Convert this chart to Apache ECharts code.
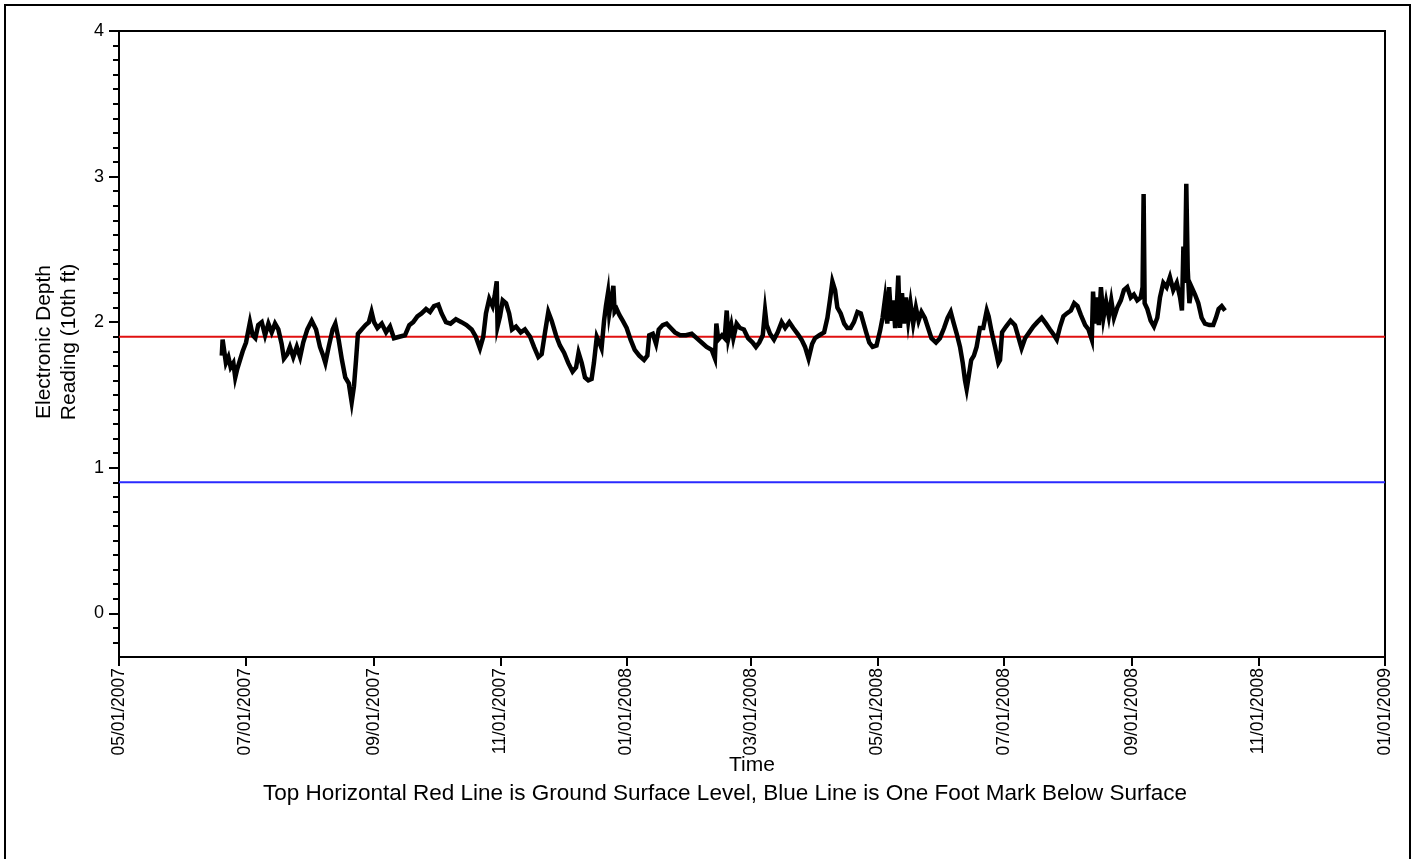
<!DOCTYPE html>
<html><head><meta charset="utf-8">
<script src="https://cdn.jsdelivr.net/npm/echarts@6/dist/echarts.min.js"></script>
<style>html,body{margin:0;padding:0;background:#fff}#c{width:1414px;height:859px}</style>
</head><body><div id="c"></div>
<script>
// ---- data ----
const axisStart = '2007-05-01';
const axisEnd = '2009-01-01';
const tickDates = ['2007-05-01','2007-07-01','2007-09-01','2007-11-01','2008-01-01','2008-03-01',
  '2008-05-01','2008-07-01','2008-09-01','2008-11-01','2009-01-01'];
const yTickValues = [0, 1, 2, 3, 4];
const yMinorTickValues = [-0.2,-0.1,0.1,0.2,0.3,0.4,0.5,0.6,0.7,0.8,0.9,1.1,1.2,1.3,1.4,1.5,1.6,1.7,1.8,1.9,
  2.1,2.2,2.3,2.4,2.5,2.6,2.7,2.8,2.9,3.1,3.2,3.3,3.4,3.5,3.6,3.7,3.8,3.9];
const groundSurfaceLevel = 1.9;
const oneFootBelowSurface = 0.9;
// days after 05/01/2007
const daysSinceStart = [
49.6,50.0,50.7,51.6,52.8,53.9,55.2,56.1,57.1,58.4,59.7,61.3,63.2,64.5,65.8,67.2,68.9,70.5,72.1,73.7,
75.3,76.9,78.5,79.6,81.2,82.5,84.1,85.8,87.4,88.9,90.9,93.0,95.1,97.0,98.3,99.6,101.2,103.1,104.4,106.0,
107.6,109.2,110.9,112.3,113.4,114.4,115.3,117.1,119.0,120.6,121.9,123.1,124.7,126.8,128.9,130.8,132.7,135.3,138.0,140.1,
142.0,144.0,146.0,148.2,150.1,152.0,154.1,155.7,157.8,160.0,162.6,165.3,167.7,170.2,172.2,174.2,175.8,177.1,178.7,180.3,
181.3,182.3,182.7,183.9,185.2,186.8,188.3,189.7,191.6,193.9,195.9,198.4,200.3,202.4,204.0,205.6,207.2,208.8,210.9,212.8,
214.8,216.8,218.9,220.6,221.8,223.3,224.9,226.5,228.1,229.2,230.6,232.1,232.9,234.1,235.0,236.0,236.6,237.6,238.6,239.2,
240.2,241.5,243.1,245.0,246.9,248.9,251.1,253.4,255.0,255.9,257.6,259.2,260.5,262.4,264.3,266.3,268.3,270.8,273.6,276.4,
278.8,281.2,283.6,286.0,287.6,288.3,289.2,291.0,292.3,293.3,294.1,295.5,296.5,298.1,299.7,301.6,303.6,305.8,307.4,309.0,
310.7,311.8,312.6,314.2,316.1,317.9,319.8,321.5,323.5,325.4,327.5,329.4,331.1,332.8,334.5,335.9,338.0,340.3,341.9,343.1,
344.3,345.6,346.7,348.3,350.0,351.5,353.1,354.7,356.4,358.0,359.2,360.6,362.1,363.7,365.6,367.3,368.5,369.7,370.8,371.7,
372.7,373.7,374.6,375.6,376.1,376.9,377.9,378.8,379.8,380.9,382.0,383.3,384.6,385.9,387.3,388.9,390.5,392.1,394.3,396.2,
398.2,399.9,401.4,402.7,404.3,405.9,407.2,408.3,409.1,410.1,411.3,412.6,413.9,415.5,417.1,418.8,419.7,421.2,422.8,424.4,
425.2,426.2,428.1,430.3,432.4,434.0,435.6,437.3,439.3,441.3,443.2,445.3,447.4,449.3,451.3,452.6,454.2,455.8,457.4,459.4,
461.0,462.6,464.2,466.3,467.9,469.5,470.1,471.0,471.9,472.9,473.9,475.1,476.4,477.7,478.9,480.2,481.8,483.5,485.0,486.6,
488.3,489.8,491.4,493.1,494.0,494.5,495.0,496.3,497.9,499.5,501.1,502.4,504.0,505.6,507.2,508.8,510.5,512.1,513.0,513.7,
514.4,515.1,515.8,516.6,517.7,519.3,520.9,522.5,524.1,526.2,528.1,529.4,530.7,532.2,533.8
];
const depthReading = [
1.77,1.88,1.89,1.72,1.76,1.69,1.72,1.62,1.68,1.74,1.80,1.86,2.00,1.91,1.89,1.98,2.00,1.91,1.99,1.93,
1.99,1.95,1.85,1.75,1.78,1.83,1.76,1.83,1.76,1.86,1.95,2.01,1.95,1.83,1.78,1.72,1.83,1.95,1.99,1.88,
1.74,1.62,1.58,1.45,1.56,1.74,1.92,1.95,1.98,2.00,2.07,2.00,1.96,1.99,1.93,1.97,1.89,1.90,1.91,1.98,
2.00,2.04,2.06,2.09,2.07,2.11,2.12,2.06,2.00,1.99,2.02,2.00,1.98,1.95,1.90,1.82,1.90,2.06,2.16,2.11,
2.18,2.28,1.97,2.04,2.15,2.13,2.06,1.95,1.97,1.93,1.95,1.90,1.83,1.76,1.78,1.93,2.07,2.01,1.91,1.84,
1.79,1.72,1.66,1.69,1.79,1.72,1.62,1.60,1.61,1.72,1.90,1.85,1.82,2.01,2.11,2.20,2.06,2.15,2.25,2.07,
2.09,2.05,2.01,1.96,1.88,1.81,1.77,1.74,1.77,1.91,1.92,1.85,1.95,1.98,1.99,1.96,1.93,1.91,1.91,1.92,
1.89,1.86,1.83,1.81,1.75,1.99,1.88,1.91,1.89,2.08,1.89,1.98,1.89,1.99,1.96,1.95,1.89,1.86,1.83,1.86,
1.91,2.08,1.98,1.92,1.88,1.93,2.00,1.96,2.00,1.96,1.92,1.88,1.83,1.75,1.85,1.89,1.91,1.93,2.03,2.15,
2.28,2.22,2.10,2.06,1.99,1.96,1.96,2.00,2.07,2.06,2.00,1.93,1.86,1.83,1.84,1.94,2.03,2.16,1.99,2.24,
2.01,2.15,1.96,2.17,2.32,1.96,2.20,1.99,2.17,2.01,2.13,1.99,2.10,2.01,2.07,2.03,1.96,1.89,1.86,1.89,
1.96,2.03,2.07,2.00,1.92,1.83,1.72,1.60,1.54,1.63,1.74,1.77,1.83,1.96,1.96,2.08,2.04,1.93,1.83,1.72,
1.74,1.93,1.97,2.01,1.98,1.90,1.82,1.89,1.93,1.97,2.00,2.03,1.99,1.95,1.91,1.88,1.97,2.04,2.06,2.08,
2.13,2.11,2.05,1.98,1.95,1.88,2.21,1.99,2.17,1.98,2.24,2.03,2.14,2.04,2.15,2.03,2.10,2.15,2.22,2.24,
2.17,2.19,2.15,2.17,2.24,2.88,2.13,2.09,2.01,1.97,2.03,2.17,2.27,2.24,2.31,2.22,2.27,2.17,2.08,2.52,
2.27,2.95,2.36,2.13,2.24,2.19,2.13,2.03,1.99,1.98,1.98,2.03,2.09,2.11,2.08
];
const axisTitleX = 'Time';
const axisTitleY = 'Electronic Depth\nReading (10th ft)';
const noteText = 'Top Horizontal Red Line is Ground Surface Level, Blue Line is One Foot Mark Below Surface';

// ---- build ----
const DAY = 86400000;
const toTs = s => Date.UTC(+s.slice(0,4), +s.slice(5,7)-1, +s.slice(8,10));
const xMin = toTs(axisStart), xMax = toTs(axisEnd);
const tickTs = tickDates.map(toTs);
const pad = n => (n < 10 ? '0' : '') + n;
const fmt = v => { const d = new Date(v); return pad(d.getUTCMonth()+1) + '/' + pad(d.getUTCDate()) + '/' + d.getUTCFullYear(); };
const seriesData = daysSinceStart.map((d, i) => [xMin + d * DAY, depthReading[i]]);
const FONT = '"Liberation Sans", Arial, sans-serif';

const chart = echarts.init(document.getElementById('c'), null, {renderer: 'canvas'});
chart.setOption({
  animation: false,
  backgroundColor: '#fff',
  grid: {left: 119, right: 29, top: 31, bottom: 202, show: true, borderColor: '#000', borderWidth: 2, containLabel: false},
  xAxis: {
    type: 'value', min: xMin, max: xMax,
    axisLine: {onZero: false, lineStyle: {color: '#000', width: 2}},
    axisTick: {customValues: tickTs, length: 9, lineStyle: {color: '#000', width: 2}},
    axisLabel: {customValues: tickTs, formatter: fmt, rotate: 90, color: '#000', fontSize: 17.5, fontFamily: FONT, margin: 11},
    splitLine: {show: false},
    name: axisTitleX, nameLocation: 'middle', nameGap: 98, nameMoveOverlap: false,
    nameTextStyle: {color: '#000', fontSize: 21, fontFamily: FONT}
  },
  yAxis: [{
    type: 'value', min: -0.3, max: 4,
    axisLine: {show: true, onZero: false, lineStyle: {color: '#000', width: 2}},
    axisTick: {customValues: yTickValues, length: 10, lineStyle: {color: '#000', width: 2}},
    axisLabel: {customValues: yTickValues, color: '#000', fontSize: 18, fontFamily: FONT, margin: 15},
    splitLine: {show: false}
  }, {
    type: 'value', min: -0.3, max: 4, position: 'left',
    axisLine: {show: false, onZero: false},
    axisTick: {customValues: yMinorTickValues, length: 6, lineStyle: {color: '#000', width: 2}},
    axisLabel: {show: false},
    splitLine: {show: false}
  }],
  graphic: [
    {type: 'rect', shape: {x: 5, y: 5, width: 1405, height: 900}, style: {fill: 'none', stroke: '#000', lineWidth: 2}, silent: true},
    {type: 'text', x: 57, y: 342, rotation: Math.PI / 2,
      style: {text: axisTitleY, fill: '#000', font: '21px ' + FONT, textAlign: 'center', textVerticalAlign: 'middle', lineHeight: 25}},
    {type: 'text', x: 725, y: 794,
      style: {text: noteText, fill: '#000', font: '22.5px ' + FONT, textAlign: 'center', textVerticalAlign: 'middle'}}
  ],
  series: [
    {type: 'line', yAxisIndex: 0, data: [[xMin, groundSurfaceLevel], [xMax, groundSurfaceLevel]], symbol: 'none', silent: true,
      lineStyle: {color: '#e01010', width: 2}, z: 1},
    {type: 'line', yAxisIndex: 0, data: [[xMin, oneFootBelowSurface], [xMax, oneFootBelowSurface]], symbol: 'none', silent: true,
      lineStyle: {color: '#2a2aff', width: 2}, z: 1},
    {type: 'line', yAxisIndex: 0, data: seriesData, symbol: 'none', silent: true,
      lineStyle: {color: '#000', width: 4.5, join: 'miter'}, z: 3}
  ]
});
</script></body></html>
